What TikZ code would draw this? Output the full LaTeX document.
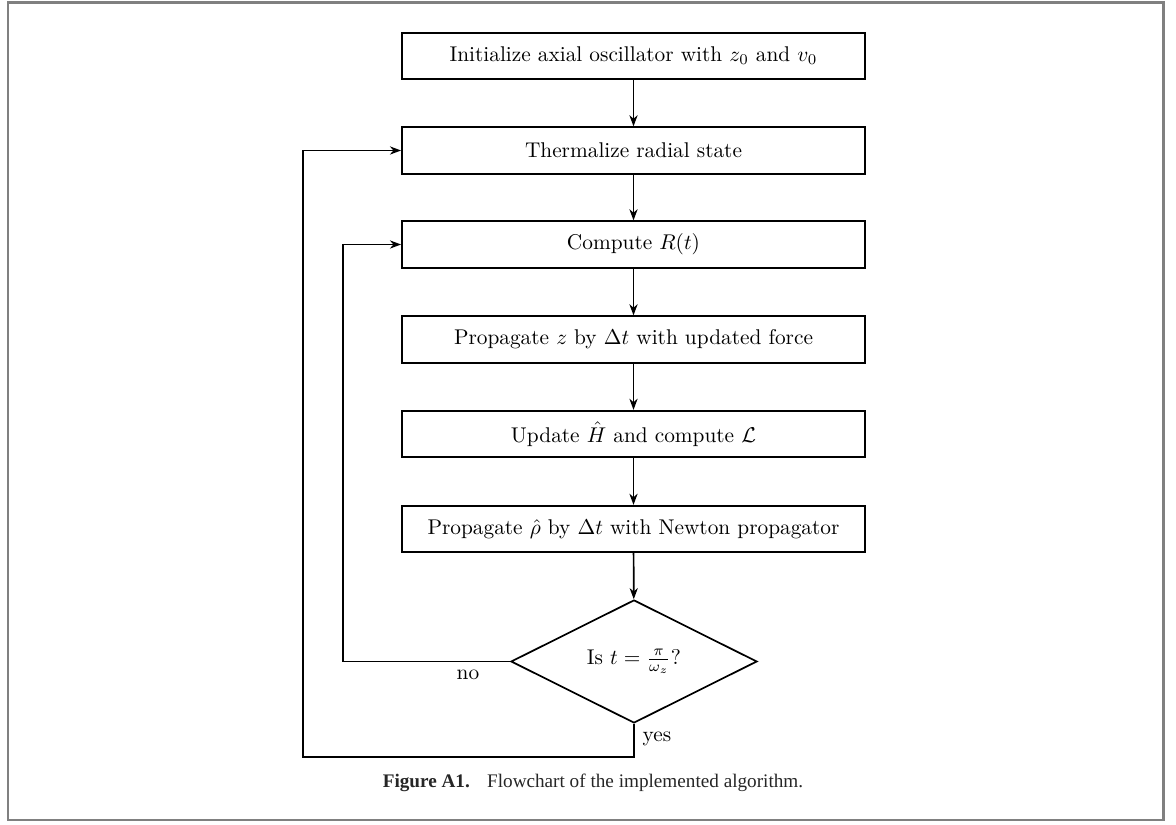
\documentclass[tikz,border=0pt]{standalone}
\usepackage{fontspec}
\newfontfamily\capfont{Liberation Serif}
\usetikzlibrary{shapes.geometric,arrows.meta}
\tikzset{
  stepbox/.style={draw, line width=0.8pt, rectangle, minimum width=217.2pt, minimum height=21.8pt, inner sep=0pt, font=\fontsize{10}{12}\selectfont},
  decision/.style={draw, line width=0.8pt, diamond, aspect=2, minimum width=115.4pt, minimum height=57.7pt, inner sep=0pt, font=\fontsize{10}{12}\selectfont},
  arr/.style={line width=0.8pt, -{Stealth[length=5.2pt,width=3.8pt,inset=1.6pt]}},
  conn/.style={line width=0.8pt},
  lbl/.style={font=\fontsize{10}{12}\selectfont, inner sep=0pt},
  frame/.style={draw=black!50, line width=1.4pt}
}
\begin{document}
\begin{tikzpicture}[x=0.469pt,y=-0.469pt]
\useasboundingbox (0,0) rectangle (1176,825);
\draw[frame] (8,3) rectangle (1163,820);
\node[stepbox] (b1) at (633.5,56) {Initialize axial oscillator with $z_0$ and $v_0$};
\node[stepbox] (b2) at (633.5,150.5) {Thermalize radial state};
\node[stepbox] (b3) at (633.5,244.5) {Compute $R(t)$};
\node[stepbox] (b4) at (633.5,339.5) {Propagate $z$ by $\Delta t$ with updated force};
\node[stepbox] (b5) at (633.5,434) {Update $\hat{H}$ and compute $\mathcal{L}$};
\node[stepbox] (b6) at (633.5,529) {Propagate $\hat{\rho}$ by $\Delta t$ with Newton propagator};
\node[decision] (d) at (634,661.5) {Is $t=\frac{\pi}{\omega_z}$?};
\coordinate (nox) at (343,661.5);
\coordinate (yc) at (303,757);
\draw[arr] (b1) -- (b2);
\draw[arr] (b2) -- (b3);
\draw[arr] (b3) -- (b4);
\draw[arr] (b4) -- (b5);
\draw[arr] (b5) -- (b6);
\draw[arr] (b6) -- (d);
\draw[arr] (d.west) -- (nox) |- (b3.west);
\draw[arr] (d.south) |- (yc) |- (b2.west);
\node[lbl] (no) at (468,675) {no};
\node[lbl] (yes) at (657,739) {yes};
\node[inner sep=0pt, font=\capfont\fontsize{9}{11}\selectfont, text=black!85] (cap) at (593,783) {\textbf{Figure A1.}\hspace{0.9em}Flowchart of the implemented algorithm.};
\end{tikzpicture}
\end{document}
